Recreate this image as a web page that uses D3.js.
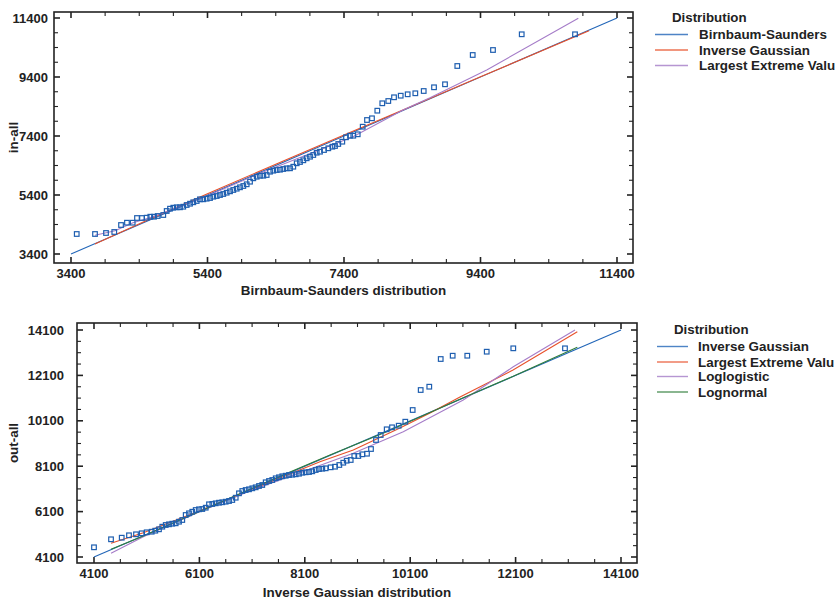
<!DOCTYPE html>
<html>
<head>
<meta charset="utf-8">
<script src="https://cdn.jsdelivr.net/npm/d3@7"></script>
<style>
  body { margin: 0; background: #fff; }
  svg { display: block; font-family: "Liberation Sans", Arial, sans-serif; }
</style>
</head>
<body>
<div id="chart"></div>
<script>
// ---- top panel: in-all vs Birnbaum-Saunders quantiles ----
let bsQuantiles = [3484,3752,3913,4034,4133,4220,4304,4367,4440,4509,4562,4616,4670,4752,4802,4851,4899,4949,4997,5045,
    5095,5144,5192,5242,5290,5338,5388,5437,5485,5535,5583,5631,5681,5730,5778,5828,5876,5925,5974,6023,
    6071,6121,6169,6218,6267,6316,6364,6414,6462,6511,6560,6609,6657,6707,6755,6804,6853,6902,6950,7000,
    7048,7107,7170,7229,7268,7316,7375,7429,7488,7536,7601,7674,7737,7810,7888,7961,8049,8133,8231,8333,
    8445,8568,8719,8880,9060,9286,9583,10004,10785];
let inAll = [4078,4078,4112,4146,4383,4461,4461,4620,4620,4631,4664,4664,4688,4722,4858,4936,4970,4983,4983,5003,
    5061,5105,5153,5197,5254,5254,5275,5298,5342,5366,5400,5434,5478,5525,5570,5614,5661,5705,5763,5851,
    5966,6020,6054,6054,6078,6190,6224,6248,6258,6281,6305,6305,6359,6475,6519,6576,6644,6698,6756,6834,
    6868,6925,6983,7037,7061,7129,7207,7356,7410,7410,7458,7715,7942,8000,8258,8509,8586,8712,8766,8814,
    8848,8925,9051,9153,9773,10146,10315,10848,10848];

let topLineBS = [[3400,3400],[11400,11400]];
let topLineIG = [[3750,3740],[4500,4525],[5400,5440],[6400,6445],[7400,7435],[8400,8420],[9400,9405],[10990,10970]];
let topLineLEV = [[3752,4034],[4045,4190],[4308,4461],[4601,4664],[5393,5366],[6169,6136],[7532,7376],
    [8264,8281],[8660,8700],[9491,9637],[10833,11390]];

// ---- bottom panel: out-all vs Inverse Gaussian quantiles ----
let igQuantiles = [4100,4423,4626,4764,4897,5005,5100,5195,5263,5333,5396,5461,5523,5586,5650,5713,5775,5840,5903,5965,
    6030,6092,6155,6220,6282,6345,6409,6472,6534,6599,6662,6724,6789,6851,6914,6978,7041,7104,7168,7231,
    7293,7358,7421,7483,7548,7610,7673,7738,7800,7863,7927,7990,8053,8117,8180,8242,8307,8369,8432,8496,
    8591,8673,8755,8830,8895,8971,9039,9115,9191,9280,9356,9451,9540,9654,9755,9882,10007,10147,10299,10462,
    10679,10906,11183,11552,12056,13037];
let outAll = [4527,4880,4950,5056,5100,5144,5188,5214,5259,5320,5435,5510,5540,5567,5584,5655,5730,5950,6025,6095,
    6170,6201,6214,6272,6421,6435,6465,6492,6510,6536,6567,6611,6712,6906,7007,7051,7082,7126,7170,7228,
    7272,7391,7448,7492,7567,7611,7655,7681,7712,7725,7743,7769,7813,7831,7844,7875,7932,7976,7990,8007,
    8051,8078,8153,8254,8342,8373,8549,8549,8624,8650,8857,9254,9474,9725,9813,9884,10060,10575,11456,11602,
    12822,12967,12967,13144,13293,13293];

let botLineIG = [[4100,4100],[14100,14100]];
let botLineLEV = [[4423,4703],[5036,5170],[6100,6130],[7100,7080],[8388,8298],[9020,8813],[9906,9782],
    [10476,10443],[11045,11148],[12051,12337],[12753,13306],[13271,14025]];
let botLineLL = [[4423,4263],[5036,4994],[6100,6090],[7100,7050],[8578,8298],[9020,8668],[9969,9620],
    [11107,11016],[12056,12478],[13227,14100]];
let botLineLN = [[4423,4439],[5036,5030],[6100,6100],[7100,7130],[8578,8593],[9654,9620],[11107,11120],
    [12056,12060],[13271,13338]];

let topTicks = d3.range(3400, 11401, 2000);
let botTicks = d3.range(4100, 14101, 2000);

// the reference legend shows the name cut short at the page edge
let levName = "Largest Extreme Valu";

let colBlue = "#2266b8", colRed = "#e8502a", colPurple = "#a57cc8", colGreen = "#2f7d3a";

let svg = d3.select("#chart").append("svg")
    .attr("width", 836)
    .attr("height", 599);

function panel(cfg) {
    let x = d3.scaleLinear().domain(cfg.xDomain).range(cfg.xRange);
    let y = d3.scaleLinear().domain(cfg.yDomain).range(cfg.yRange);
    let [bx0, bx1, by0, by1] = cfg.box;
    let g = svg.append("g");

    let minor = d3.range(cfg.ticks[0], cfg.ticks[cfg.ticks.length - 1] + 1, 500);

    // inward ticks on all four sides
    minor.forEach(function (v) {
        let major = cfg.ticks.indexOf(v) >= 0;
        let len = major ? 6 : 4;
        let w = major ? 1.6 : 1.1;
        let xp = x(v), yp = y(v);
        g.append("line").attr("x1", xp).attr("x2", xp).attr("y1", by1).attr("y2", by1 - len)
            .attr("stroke", "#222").attr("stroke-width", w);
        g.append("line").attr("x1", xp).attr("x2", xp).attr("y1", by0).attr("y2", by0 + len)
            .attr("stroke", "#222").attr("stroke-width", w);
        g.append("line").attr("y1", yp).attr("y2", yp).attr("x1", bx0).attr("x2", bx0 + len)
            .attr("stroke", "#222").attr("stroke-width", w);
        g.append("line").attr("y1", yp).attr("y2", yp).attr("x1", bx1).attr("x2", bx1 - len)
            .attr("stroke", "#222").attr("stroke-width", w);
    });

    g.append("rect")
        .attr("x", bx0).attr("y", by0)
        .attr("width", bx1 - bx0).attr("height", by1 - by0)
        .attr("fill", "none").attr("stroke", "#222").attr("stroke-width", 1.6);

    g.selectAll(".xlab").data(cfg.ticks).enter().append("text")
        .attr("x", d => x(d)).attr("y", by1 + 15)
        .attr("text-anchor", "middle")
        .attr("font-size", 13).attr("font-weight", "bold").attr("fill", "#222")
        .text(d => d);

    g.selectAll(".ylab").data(cfg.ticks).enter().append("text")
        .attr("x", cfg.yLabelX).attr("y", d => y(d) + 4.5)
        .attr("text-anchor", "end")
        .attr("font-size", 13).attr("font-weight", "bold").attr("fill", "#222")
        .text(d => d);

    g.append("text")
        .attr("x", (bx0 + bx1) / 2).attr("y", cfg.xTitleY)
        .attr("text-anchor", "middle")
        .attr("font-size", 13.4).attr("font-weight", "bold").attr("fill", "#222")
        .text(cfg.xTitle);

    g.append("text")
        .attr("transform", "translate(18," + ((by0 + by1) / 2) + ") rotate(-90)")
        .attr("text-anchor", "middle")
        .attr("font-size", 13.4).attr("font-weight", "bold").attr("fill", "#222")
        .text(cfg.yTitle);

    let line = d3.line().x(d => x(d[0])).y(d => y(d[1]));
    cfg.lines.forEach(function (l) {
        g.append("path")
            .attr("d", line(l.data))
            .attr("fill", "none")
            .attr("stroke", l.color)
            .attr("stroke-width", 1.1);
    });

    g.selectAll(".pt").data(cfg.px).enter().append("rect")
        .attr("x", (d, i) => x(d) - 2.3)
        .attr("y", (d, i) => y(cfg.py[i]) - 2.3)
        .attr("width", 4.6).attr("height", 4.6)
        .attr("fill", "none")
        .attr("stroke", "#1f5fb0")
        .attr("stroke-width", 1.2);

    // legend
    let lg = svg.append("g");
    lg.append("text")
        .attr("x", cfg.legend.titleX).attr("y", cfg.legend.titleY)
        .attr("font-size", 13.3).attr("font-weight", "bold").attr("fill", "#222")
        .text("Distribution");
    cfg.lines.forEach(function (l, i) {
        let ly = cfg.legend.rowY[i];
        lg.append("line")
            .attr("x1", cfg.legend.lineX[0]).attr("x2", cfg.legend.lineX[1])
            .attr("y1", ly).attr("y2", ly)
            .attr("stroke", l.color).attr("stroke-width", 1.4).attr("opacity", 0.8);
        lg.append("text")
            .attr("x", cfg.legend.textX).attr("y", ly + 4.8)
            .attr("font-size", 13.4).attr("font-weight", "bold").attr("fill", "#222")
            .text(l.name);
    });
}

panel({
    box: [54, 633, 12, 263],
    xDomain: [3400, 11400], xRange: [71, 617],
    yDomain: [3400, 11400], yRange: [254, 18],
    ticks: topTicks,
    yLabelX: 48,
    xTitle: "Birnbaum-Saunders distribution", xTitleY: 295,
    yTitle: "in-all",
    px: bsQuantiles, py: inAll,
    lines: [
        {name: "Birnbaum-Saunders", color: colBlue, data: topLineBS},
        {name: "Inverse Gaussian", color: colRed, data: topLineIG},
        {name: levName, color: colPurple, data: topLineLEV}
    ],
    legend: {titleX: 672, titleY: 22, lineX: [655, 688], textX: 699, rowY: [34.5, 50, 65.5]}
});

panel({
    box: [77, 637, 323, 563],
    xDomain: [4100, 14100], xRange: [94, 621],
    yDomain: [4100, 14100], yRange: [557, 330],
    ticks: botTicks,
    yLabelX: 64,
    xTitle: "Inverse Gaussian distribution", xTitleY: 597,
    yTitle: "out-all",
    px: igQuantiles, py: outAll,
    lines: [
        {name: "Inverse Gaussian", color: colBlue, data: botLineIG},
        {name: levName, color: colRed, data: botLineLEV},
        {name: "Loglogistic", color: colPurple, data: botLineLL},
        {name: "Lognormal", color: colGreen, data: botLineLN}
    ],
    legend: {titleX: 674, titleY: 334, lineX: [657, 688], textX: 698, rowY: [346.5, 362, 376.5, 392]}
});
</script>
</body>
</html>
